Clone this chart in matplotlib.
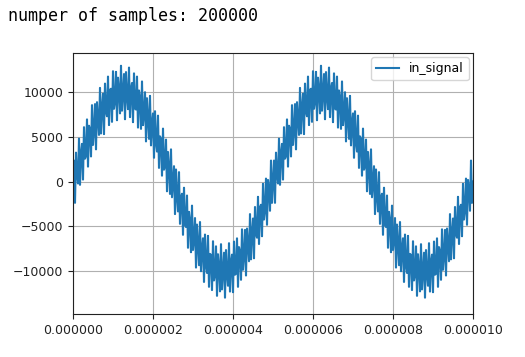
import numpy as np
import matplotlib
matplotlib.use("Agg")
import matplotlib.pyplot as plt
from matplotlib.ticker import FixedLocator

# values
n_samples = 200000
sample_step = 2.5e-8                 # s
carrier_amp = 10000
carrier_freq = 200e3                 # Hz (period 5 us)
ripple_amps = [3000]
ripple_freqs = [15.2e6]              # Hz
x_ticks = [0, 2e-6, 4e-6, 6e-6, 8e-6, 10e-6]
x_tick_labels = ["0.000000", "0.000002", "0.000004", "0.000006", "0.000008", "0.000010"]
y_ticks = [-10000, -5000, 0, 5000, 10000]
y_tick_labels = ["\u221210000", "\u22125000", "0", "5000", "10000"]
x_limits = [0, 1e-5]
y_limits = [-14800, 14400]

t = np.arange(int(round(x_limits[1] / sample_step)) + 1) * sample_step
in_signal = carrier_amp * np.sin(2 * np.pi * carrier_freq * t)
for a, f in zip(ripple_amps, ripple_freqs):
    in_signal = in_signal + a * np.sin(2 * np.pi * f * t)

fig = plt.figure(figsize=(5.25, 3.57), dpi=100)
fig.text(8 / 525, 1 - 16 / 357, f"numper of samples: {n_samples}", family="DejaVu Sans Mono",
         fontsize=12, va="center", ha="left")
ax = fig.add_axes([73 / 525, 1 - 314 / 357, 400 / 525, 261 / 357])
ax.plot(t, in_signal, color="#1f77b4", lw=1.5, label="in_signal")
ax.set_xlim(*x_limits)
ax.set_ylim(*y_limits)
ax.xaxis.set_major_locator(FixedLocator(x_ticks))
ax.set_xticklabels(x_tick_labels)
ax.yaxis.set_major_locator(FixedLocator(y_ticks))
ax.set_yticklabels(y_tick_labels)
ax.tick_params(labelsize=9, colors="#222222")
ax.grid(True, color="#b0b0b0", lw=0.8)
for s in ax.spines.values():
    s.set_color("#222222")
ax.legend(loc="upper right", fontsize=9, handlelength=1.8, borderaxespad=0.35)
fig.savefig("out.png", dpi=100)
